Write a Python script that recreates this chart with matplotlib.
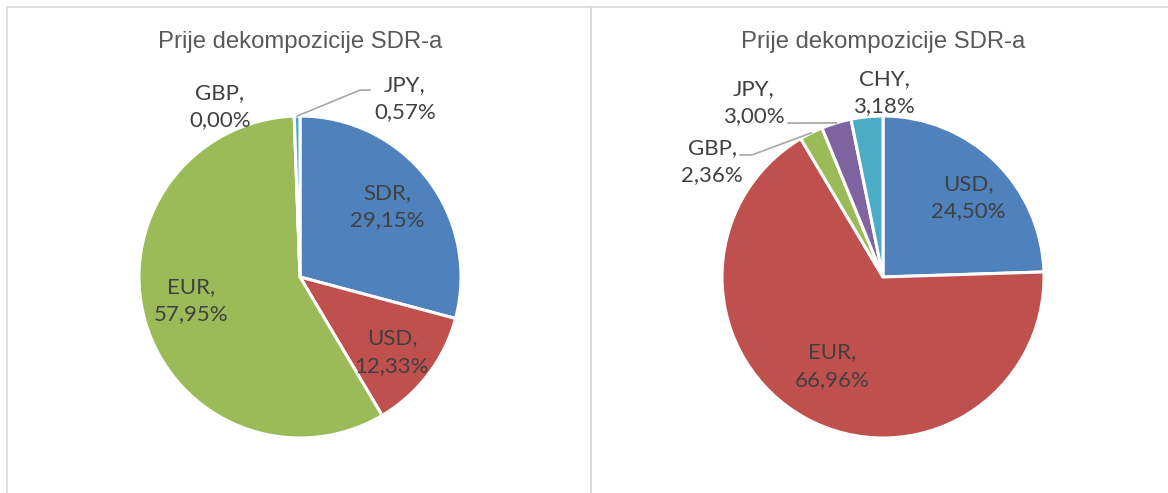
import matplotlib.pyplot as plt
from matplotlib.patches import Rectangle
import numpy as np

# podaci
title = 'Prije dekompozicije SDR-a'

left_labels = ['SDR', 'USD', 'EUR', 'GBP', 'JPY']
left_values = [29.15, 12.33, 57.95, 0.00, 0.57]
left_colors = ['#4F81BD', '#C0504D', '#9BBB59', '#8064A2', '#4BACC6']

right_labels = ['USD', 'EUR', 'GBP', 'JPY', 'CHY']
right_values = [24.50, 66.96, 2.36, 3.00, 3.18]
right_colors = ['#4F81BD', '#C0504D', '#9BBB59', '#8064A2', '#4BACC6']

# polozaj oznaka (u jedinicama radijusa)
left_lpos = [(0.54, 0.435), (0.571, -0.466), (-0.677, -0.149), (-0.497, 1.056), (0.652, 1.106)]
right_lpos = [(0.528, 0.491), (-0.317, -0.553), (-1.062, 0.717), (-0.801, 1.081), (0.006, 1.143)]

# linije vodilice: indeks kriske -> tocke koljena i kraja
left_leaders = {4: [(0.373, 1.161), (0.435, 1.161)]}
right_leaders = {2: [(-0.814, 0.758), (-0.888, 0.758)],
                 3: [(-0.590, 0.956), (-0.590, 0.956)]}

W, H = 1168, 493
R = 161  # radijus u pikselima
fig = plt.figure(figsize=(W / 100, H / 100), dpi=100)


def fmt(v):
    return ('%.2f' % v).replace('.', ',') + '%'


def draw(cx, cy, labels, values, colors, lpos, leaders):
    half = 220
    ax = fig.add_axes([(cx - half) / W, (H - cy - half) / H, 2 * half / W, 2 * half / H])
    wedges, _ = ax.pie(values, colors=colors, startangle=90, counterclock=False,
                       radius=1.0, wedgeprops=dict(edgecolor='white', linewidth=2.2))
    lim = half / R
    ax.set_xlim(-lim, lim)
    ax.set_ylim(-lim, lim)
    ax.set_aspect('equal')
    ax.axis('off')
    for i, (lab, v) in enumerate(zip(labels, values)):
        x, y = lpos[i]
        ax.text(x, y, lab + ',\n' + fmt(v), ha='center', va='center',
                fontsize=16, color='#404040', family='Lato', linespacing=1.45)
    for i, pts in leaders.items():
        w = wedges[i]
        a = np.deg2rad((w.theta1 + w.theta2) / 2)
        xs = [np.cos(a)] + [p[0] for p in pts]
        ys = [np.sin(a)] + [p[1] for p in pts]
        ax.plot(xs, ys, color='#A6A6A6', lw=1.2)
    fig.text(cx / W, 1 - 42 / H, title, ha='center', va='center',
             fontsize=17.2, color='#595959', family='Liberation Sans')


draw(300, 277, left_labels, left_values, left_colors, left_lpos, left_leaders)
draw(883, 277, right_labels, right_values, right_colors, right_lpos, right_leaders)

# okviri grafikona
for x0, x1 in [(7, 591), (591, 1200)]:
    fig.add_artist(Rectangle((x0 / W, -0.1), (x1 - x0) / W, (H - 7) / H + 0.1,
                             transform=fig.transFigure, fill=False,
                             edgecolor='#D9D9D9', lw=1.2))

fig.savefig('out.png', dpi=100)
